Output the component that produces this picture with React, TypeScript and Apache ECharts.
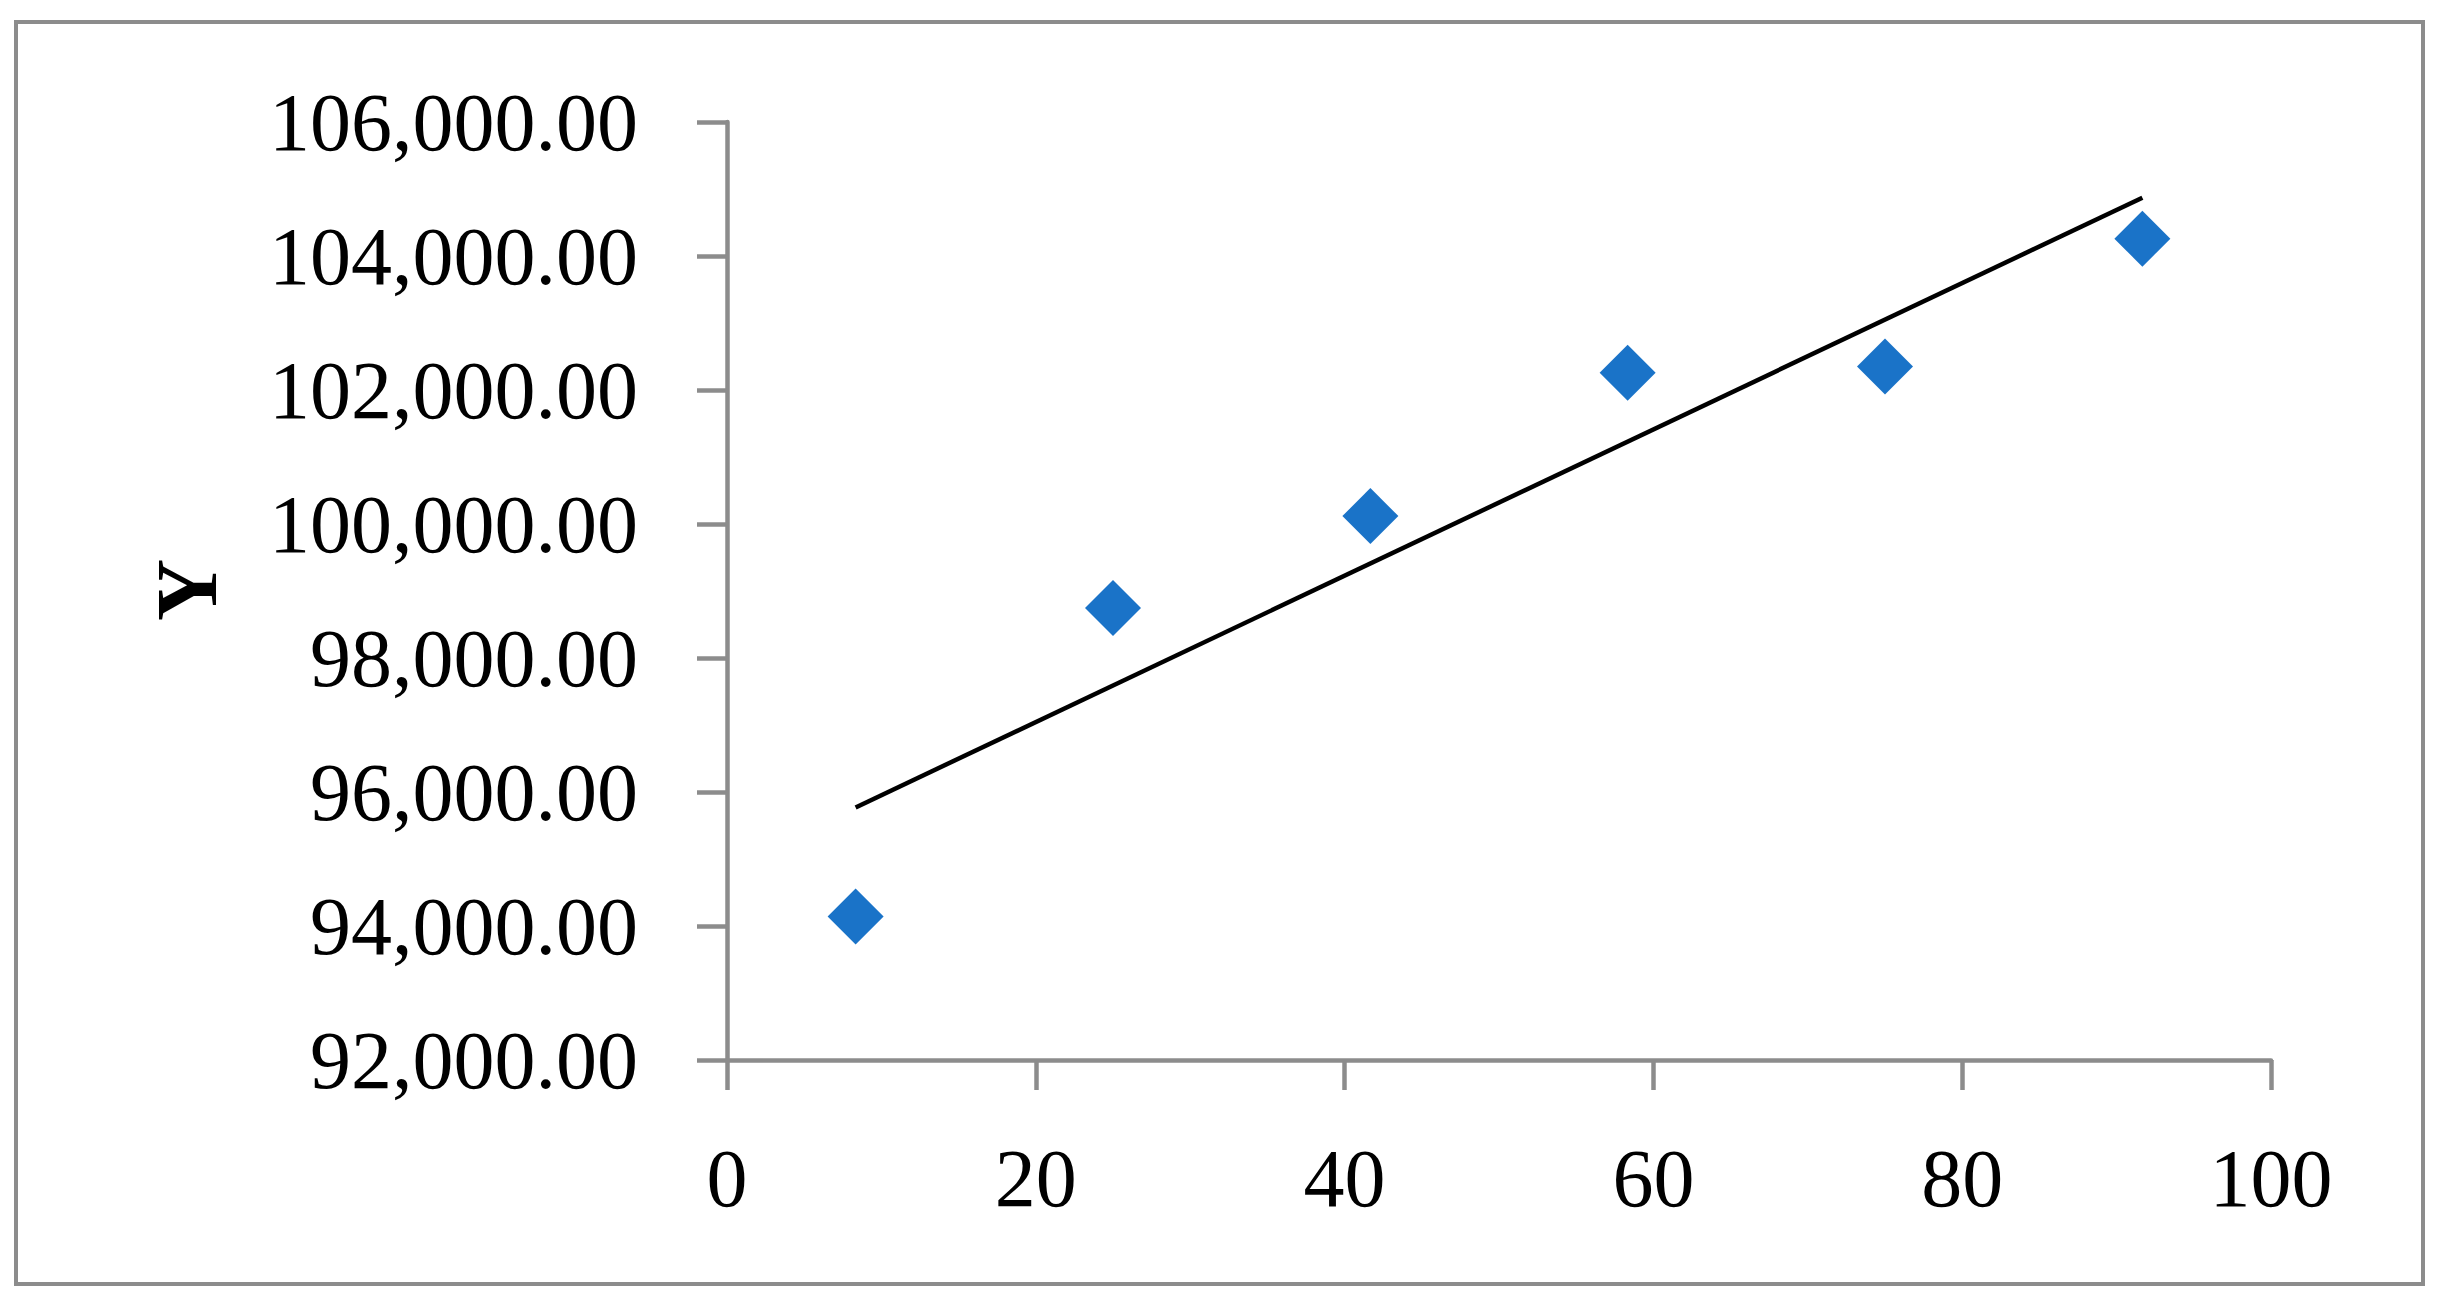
import React, { useEffect, useRef } from "react";
import * as echarts from "echarts";

const xValues = [8.33, 25, 41.67, 58.33, 75, 91.67];
const yValues = [94140, 98745, 100118, 102258, 102351, 104258];
const trendX = [8.33, 91.67];
const trendY = [95770, 104870];
const xTicks = { min: 0, max: 100, interval: 20 };
const yTicks = { min: 92000, max: 106000, interval: 2000 };
const yTitle = "Y";

const GRAY = "#8c8c8c";
const BLUE = "#1a73c8";
const FONT = "'Liberation Serif', 'Times New Roman', serif";

export default function App() {
  const ref = useRef<HTMLDivElement>(null);
  useEffect(() => {
    if (!ref.current) return;
    const chart = echarts.init(ref.current, undefined, { renderer: "svg" });
    const points = xValues.map((x, i) => [x, yValues[i]]);
    const trend = trendX.map((x, i) => [x, trendY[i]]);
    chart.setOption({
      animation: false,
      backgroundColor: "#ffffff",
      grid: { left: 727, right: 175, top: 122, bottom: 244, containLabel: false },
      xAxis: {
        type: "value",
        min: xTicks.min,
        max: xTicks.max,
        interval: xTicks.interval,
        axisLine: { show: true, lineStyle: { color: GRAY, width: 4.5 } },
        axisTick: { show: true, length: 30, lineStyle: { color: GRAY, width: 4.5 } },
        splitLine: { show: false },
        axisLabel: { color: "#000", fontFamily: FONT, fontSize: 82, margin: 77 },
      },
      yAxis: {
        type: "value",
        min: yTicks.min,
        max: yTicks.max,
        interval: yTicks.interval,
        axisLine: { show: true, lineStyle: { color: GRAY, width: 4.5 } },
        axisTick: { show: true, length: 30, lineStyle: { color: GRAY, width: 4.5 } },
        splitLine: { show: false },
        axisLabel: {
          color: "#000",
          fontFamily: FONT,
          fontSize: 82,
          margin: 89,
          formatter: (v: number) =>
            v.toLocaleString("en-US", { minimumFractionDigits: 2, maximumFractionDigits: 2 }),
        },
      },
      graphic: [
        {
          type: "rect",
          shape: { x: 16, y: 22, width: 2407, height: 1262 },
          style: { fill: "none", stroke: GRAY, lineWidth: 4 },
          silent: true,
        },
        {
          type: "text",
          x: 187,
          y: 590,
          rotation: Math.PI / 2,
          style: {
            text: yTitle,
            font: `bold 86px ${FONT}`,
            fill: "#000",
            align: "center",
            verticalAlign: "middle",
          },
        },
      ],
      series: [
        {
          type: "line",
          data: trend,
          showSymbol: false,
          symbol: "none",
          lineStyle: { color: "#000", width: 4.5 },
          z: 2,
        },
        {
          type: "scatter",
          data: points,
          symbol: "diamond",
          symbolSize: 56,
          itemStyle: { color: BLUE, opacity: 1 },
          z: 3,
        },
      ],
    });
    return () => chart.dispose();
  }, []);
  return (
    <div
      ref={ref}
      style={{ position: "absolute", left: 0, top: 0, width: 2446, height: 1304 }}
    />
  );
}
